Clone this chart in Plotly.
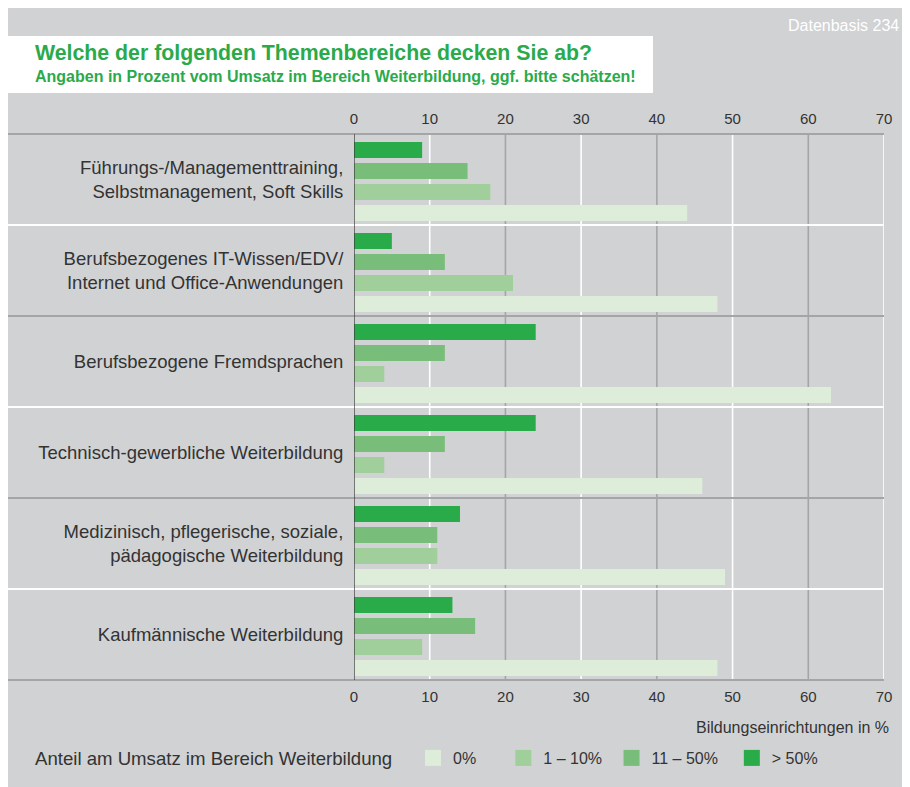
import plotly.graph_objects as go

# ---------------- data ----------------
categories = [
    "Führungs-/Managementtraining,\nSelbstmanagement, Soft Skills",
    "Berufsbezogenes IT-Wissen/EDV/\nInternet und Office-Anwendungen",
    "Berufsbezogene Fremdsprachen",
    "Technisch-gewerbliche Weiterbildung",
    "Medizinisch, pflegerische, soziale,\npädagogische Weiterbildung",
    "Kaufmännische Weiterbildung",
]
share_over_50 = [9, 5, 24, 24, 14, 13]
share_11_50 = [15, 12, 12, 12, 11, 16]
share_1_10 = [18, 21, 4, 4, 11, 9]
share_0 = [44, 48, 63, 46, 49, 48]
series_names = ["0%", "1 – 10%", "11 – 50%", "> 50%"]
x_ticks = [0, 10, 20, 30, 40, 50, 60, 70]

# ---------------- style ----------------
OFF = 8                      # page body margin of the html page
W, H = 910 - OFF, 787 - OFF
ML, MR, MT, MB = 346, 26, 126, 107
PW, PH = W - ML - MR, H - MT - MB
FONT = "Liberation Sans, Arial, Helvetica, sans-serif"
BG = "#d1d2d4"
GREY_LINE = "#a4a5a7"
TXT = "#333333"
GREEN_TITLE = "#2aaa4a"
colors = {"0%": "#deedda", "1 – 10%": "#a0cf9c", "11 – 50%": "#78be7a", "> 50%": "#2aab4a"}


def wx(p):  # window pixel -> paper x
    return (p - OFF - ML) / PW


def wy(p):  # window pixel -> paper y
    return (H - MB - (p - OFF)) / PH


cats = [c.replace("\n", "<br>") for c in categories]

fig = go.Figure()
values = {"> 50%": share_over_50, "11 – 50%": share_11_50, "1 – 10%": share_1_10, "0%": share_0}
SLOT, BW, FIRST = 21 / 91, 16 / 91, -0.5 + 8 / 91
for i, name in enumerate(["> 50%", "11 – 50%", "1 – 10%", "0%"]):
    fig.add_trace(go.Bar(
        y=cats, x=values[name], orientation="h", name=name,
        offset=FIRST + i * SLOT, width=BW,
        marker=dict(color=colors[name], line=dict(width=0)),
        showlegend=False, hoverinfo="x+name",
    ))

# legend entries (in legend order)
pad = {"0%": "\u00a0" * 5, "1 – 10%": "\u00a0" * 1, "11 – 50%": "\u00a0" * 2, "> 50%": ""}
for name in series_names:
    fig.add_trace(go.Scatter(
        x=[None], y=[None], mode="markers", name=name + pad[name],
        marker=dict(symbol="square", size=19, color=colors[name], line=dict(width=0)),
    ))

# invisible trace to anchor bottom axis
fig.add_trace(go.Scatter(x=[0, 70], y=[cats[0], cats[0]], xaxis="x2", mode="markers",
                         marker=dict(opacity=0), showlegend=False, hoverinfo="skip"))

shapes = []
# title box
shapes.append(dict(type="rect", xref="paper", yref="paper", x0=wx(0), x1=wx(653),
                   y0=wy(93), y1=wy(36), fillcolor="white", line=dict(width=0), layer="below"))
# vertical grid lines (alternating)
for v in x_ticks[1:]:
    col = "white" if (v // 10) % 2 == 1 else GREY_LINE
    shapes.append(dict(type="line", xref="x", yref="paper", x0=v, x1=v, y0=0, y1=1,
                       line=dict(color=col, width=1.6), layer="below"))
# horizontal group separators (alternating)
n = len(categories)
for k in range(n + 1):
    col = GREY_LINE if k % 2 == 0 else "white"
    shapes.append(dict(type="line", xref="paper", yref="paper", x0=wx(5), x1=1,
                       y0=k / n, y1=k / n, line=dict(color=col, width=2), layer="below"))
# zero axis line
shapes.append(dict(type="line", xref="x", yref="paper", x0=0, x1=0, y0=0, y1=1,
                   line=dict(color="#3a3a3a", width=1.3), layer="above"))

annotations = [
    dict(text="<b>Welche der folgenden Themenbereiche decken Sie ab?</b>", x=wx(33), y=wy(53),
         xref="paper", yref="paper", xanchor="left", yanchor="middle", showarrow=False,
         font=dict(size=21.3, color=GREEN_TITLE, family=FONT)),
    dict(text="<b>Angaben in Prozent vom Umsatz im Bereich Weiterbildung, ggf. bitte schätzen!</b>",
         x=wx(33), y=wy(77), xref="paper", yref="paper", xanchor="left", yanchor="middle",
         showarrow=False, font=dict(size=16, color=GREEN_TITLE, family=FONT)),
    dict(text="Datenbasis 234", x=wx(901), y=wy(25), xref="paper", yref="paper",
         xanchor="right", yanchor="middle", showarrow=False,
         font=dict(size=16, color="white", family=FONT)),
    dict(text="Bildungseinrichtungen in %", x=wx(891), y=wy(727), xref="paper", yref="paper",
         xanchor="right", yanchor="middle", showarrow=False,
         font=dict(size=16, color=TXT, family=FONT)),
    dict(text="Anteil am Umsatz im Bereich Weiterbildung", x=wx(33), y=wy(758),
         xref="paper", yref="paper", xanchor="left", yanchor="middle", showarrow=False,
         font=dict(size=18.6, color=TXT, family=FONT)),
]

axis_common = dict(range=[0, 70], tickvals=x_ticks, showgrid=False, zeroline=False,
                   ticks="outside", ticklen=3, tickcolor="rgba(0,0,0,0)",
                   tickfont=dict(size=15, color=TXT, family=FONT), fixedrange=True)

fig.update_layout(
    width=W, height=H,
    margin=dict(l=ML, r=MR, t=MT, b=MB, pad=0),
    paper_bgcolor=BG, plot_bgcolor="rgba(0,0,0,0)",
    font=dict(family=FONT, color=TXT),
    barmode="overlay",
    xaxis=dict(side="top", **axis_common),
    xaxis2=dict(side="bottom", overlaying="x", matches="x", **axis_common),
    yaxis=dict(categoryorder="array", categoryarray=cats, autorange="reversed",
               showgrid=False, zeroline=False, showline=False,
               ticks="outside", ticklen=6, tickcolor="rgba(0,0,0,0)",
               tickfont=dict(size=18.5, color=TXT, family=FONT), fixedrange=True),
    legend=dict(orientation="h", x=wx(413), y=wy(758), xanchor="left", yanchor="middle",
                bgcolor="rgba(0,0,0,0)", font=dict(size=16, color=TXT, family=FONT),
                itemsizing="trace", traceorder="normal"),
    shapes=shapes, annotations=annotations,
)

fig.write_html("out.html")
